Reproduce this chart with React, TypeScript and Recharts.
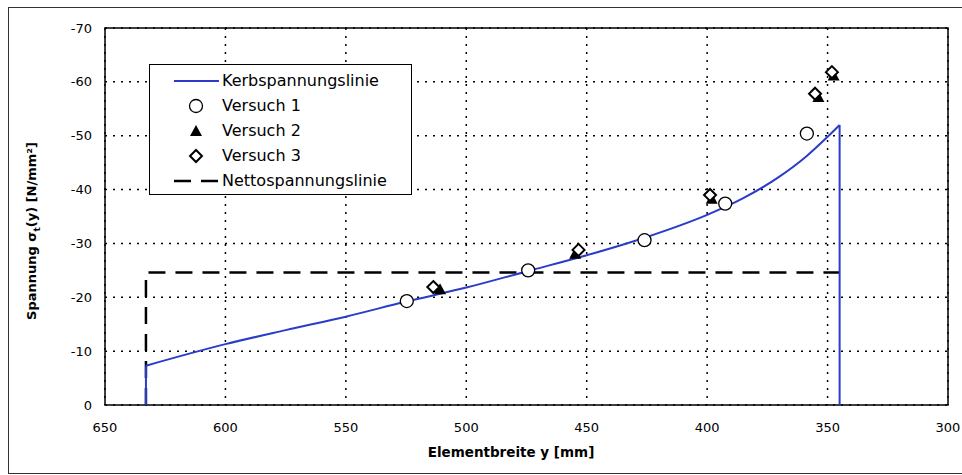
import React from "react";
import {
  ComposedChart,
  Line,
  Scatter,
  XAxis,
  YAxis,
  CartesianGrid,
  ReferenceArea
} from "recharts";

// Kerbspannungslinie (notch stress line), x = element width, y = stress
const kerbX = [633, 600, 575, 550, 525, 500, 475, 450, 425, 400, 385, 370, 359, 350, 345];
const kerbY = [-7.3, -11.3, -13.9, -16.4, -19.2, -21.8, -24.8, -27.8, -31.2, -35.3, -38.4, -42.4, -46.1, -49.8, -52];

// Nettospannungslinie (net stress line)
const nettoX = [633, 633, 345];
const nettoY = [0, -24.6, -24.6];

const v1X = [524.7, 474.3, 426, 392.5, 358.6];
const v1Y = [-19.3, -25, -30.6, -37.4, -50.4];

const v2X = [510.9, 454.8, 398.1, 353.8, 347.5];
const v2Y = [-21.5, -28.1, -38.3, -57.2, -61.2];

const v3X = [513.7, 453.4, 398.8, 355.2, 348.2];
const v3Y = [-21.9, -28.8, -39.0, -57.8, -61.8];

const xTicks = [650, 600, 550, 500, 450, 400, 350, 300];
const yTicks = [0, -10, -20, -30, -40, -50, -60, -70];

const zip = (xs: number[], ys: number[]) => xs.map((x, i) => ({ x, y: ys[i] }));

const kerbData = zip(kerbX, kerbY);
const last = kerbX.length - 1;
// vertical edges of the notch stress line down to zero
const kerbLeftEdge = [{ x: kerbX[0], y: 0 }, { x: kerbX[0], y: kerbY[0] }];
const kerbRightEdge = [{ x: kerbX[last], y: kerbY[last] }, { x: kerbX[last], y: 0 }];
const nettoData = zip(nettoX, nettoY);
const v1Data = zip(v1X, v1Y);
const v2Data = zip(v2X, v2Y);
const v3Data = zip(v3X, v3Y);

const BLUE = "#2a3cc8";
const FONT = "'DejaVu Sans', Verdana, sans-serif";

const Circle = (p: any) => (
  <circle cx={p.cx} cy={p.cy} r={6.5} fill="#fff" stroke="#000" strokeWidth={1.3} />
);
const Triangle = (p: any) => (
  <path d={`M${p.cx},${p.cy - 6} L${p.cx + 6},${p.cy + 5} L${p.cx - 6},${p.cy + 5} Z`} fill="#000" />
);
const Diamond = (p: any) => (
  <path
    d={`M${p.cx},${p.cy - 6} L${p.cx + 6},${p.cy} L${p.cx},${p.cy + 6} L${p.cx - 6},${p.cy} Z`}
    fill="#fff"
    stroke="#000"
    strokeWidth={2}
  />
);

const legendRows = [
  { label: "Kerbspannungslinie", kind: "line" },
  { label: "Versuch 1", kind: "circle" },
  { label: "Versuch 2", kind: "triangle" },
  { label: "Versuch 3", kind: "diamond" },
  { label: "Nettospannungslinie", kind: "dash" }
];

const LegendBox = () => (
  <div
    style={{
      position: "absolute",
      left: 149,
      top: 64,
      width: 261,
      height: 126,
      border: "1.5px solid #000",
      background: "#fff",
      fontFamily: FONT,
      fontSize: 16,
      color: "#000",
      paddingTop: 3
    }}
  >
    {legendRows.map((r) => (
      <div key={r.label} style={{ display: "flex", alignItems: "center", height: 25 }}>
        <svg width={72} height={20}>
          {r.kind === "line" && <line x1={24} x2={69} y1={10} y2={10} stroke={BLUE} strokeWidth={2} />}
          {r.kind === "circle" && <Circle cx={46} cy={10} />}
          {r.kind === "triangle" && <Triangle cx={46} cy={10} />}
          {r.kind === "diamond" && <Diamond cx={46} cy={10} />}
          {r.kind === "dash" && (
            <line x1={24} x2={70} y1={10} y2={10} stroke="#000" strokeWidth={2.5} strokeDasharray="17 10" />
          )}
        </svg>
        <span>{r.label}</span>
      </div>
    ))}
  </div>
);

const YTitle = () => (
  <text
    x={36}
    y={231}
    transform="rotate(-90 36 231)"
    textAnchor="middle"
    fontFamily={FONT}
    fontWeight="bold"
    fontSize={13}
    fill="#000"
  >
    Spannung σ
    <tspan fontSize={9} dy={4}>t</tspan>
    <tspan dy={-4}>(y) [N/mm²]</tspan>
  </text>
);

const XTitle = () => (
  <text x={511} y={457} textAnchor="middle" fontFamily={FONT} fontWeight="bold" fontSize={13.5} fill="#000">
    Elementbreite y [mm]
  </text>
);

export default function App() {
  return (
    <div style={{ position: "absolute", left: 0, top: 0, width: 962, height: 475, background: "#fff" }}>
      <div
        style={{
          position: "absolute",
          left: 8,
          top: 7,
          width: 970,
          height: 465,
          border: "1px solid #333"
        }}
      />
      <ComposedChart
        width={962}
        height={475}
        margin={{ top: 28, right: 14, bottom: 0, left: 0 }}
        style={{ fontFamily: FONT }}
      >
        <CartesianGrid stroke="#000" strokeDasharray="2 6" strokeWidth={1.5} />
        <XAxis
          type="number"
          dataKey="x"
          domain={[300, 650]}
          ticks={xTicks}
          reversed
          height={70}
          tickSize={0}
          tickMargin={18}
          axisLine={false}
          tick={{ fill: "#000", fontSize: 13 }}
          label={<XTitle />}
        />
        <YAxis
          type="number"
          dataKey="y"
          domain={[-70, 0]}
          ticks={yTicks}
          reversed
          width={105}
          tickSize={0}
          tickMargin={13}
          axisLine={false}
          tick={{ fill: "#000", fontSize: 13 }}
          label={<YTitle />}
        />
        <ReferenceArea x1={650} x2={300} y1={-70} y2={0} fill="none" stroke="#000" strokeWidth={1.5} />
        <Line
          data={nettoData}
          dataKey="y"
          type="linear"
          stroke="#000"
          strokeWidth={2.5}
          strokeDasharray="17 10"
          dot={false}
          activeDot={false}
          isAnimationActive={false}
        />
        <Line
          data={kerbLeftEdge}
          dataKey="y"
          type="linear"
          stroke={BLUE}
          strokeWidth={2}
          dot={false}
          activeDot={false}
          isAnimationActive={false}
        />
        <Line
          data={kerbData}
          dataKey="y"
          type="monotone"
          stroke={BLUE}
          strokeWidth={2}
          dot={false}
          activeDot={false}
          isAnimationActive={false}
        />
        <Line
          data={kerbRightEdge}
          dataKey="y"
          type="linear"
          stroke={BLUE}
          strokeWidth={2}
          dot={false}
          activeDot={false}
          isAnimationActive={false}
        />
        <Scatter data={v1Data} dataKey="y" shape={Circle} isAnimationActive={false} />
        <Scatter data={v2Data} dataKey="y" shape={Triangle} isAnimationActive={false} />
        <Scatter data={v3Data} dataKey="y" shape={Diamond} isAnimationActive={false} />
      </ComposedChart>
      <LegendBox />
    </div>
  );
}
